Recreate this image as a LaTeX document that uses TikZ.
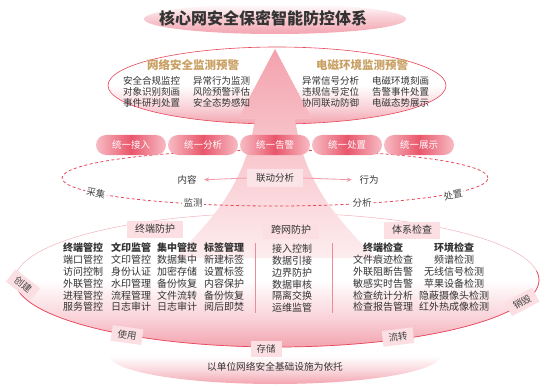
\documentclass[tikz,border=0pt]{standalone}
\usepackage{fontspec}
\setmainfont{Noto Sans CJK SC}
\usetikzlibrary{arrows.meta,calc}
\definecolor{redline}{HTML}{E8475B}
\definecolor{faintline}{HTML}{F3B3BC}
\definecolor{pkA}{HTML}{F3A4AF}
\definecolor{pkB}{HTML}{F9D3D9}
\definecolor{pinkbox}{HTML}{FBDFE3}
\definecolor{gold}{HTML}{C9A064}
\definecolor{txt}{HTML}{333333}
\definecolor{txtb}{HTML}{444444}
\definecolor{arrowtop}{HTML}{F4A2AD}
\definecolor{arrowbot}{HTML}{FDEDEF}
\definecolor{pillmid}{HTML}{E9566B}
\definecolor{pilledge}{HTML}{F7BCC4}
\definecolor{flowpk}{HTML}{F29AA6}
\definecolor{ldbox}{HTML}{FBE4E7}
\definecolor{sepline}{HTML}{F08A98}
\pgfdeclareverticalshading{ellglow}{100bp}{color(0bp)=(pkA); color(25bp)=(pkA); color(36bp)=(pkB); color(50bp)=(white); color(100bp)=(white)}
\pgfdeclareverticalshading{titleglow}{100bp}{color(0bp)=(pkA); color(25bp)=(pkA); color(55bp)=(pkB); color(75bp)=(white); color(100bp)=(white)}
\begin{document}
\begin{tikzpicture}[x=1pt,y=-1pt,
  itm/.style={font=\fontsize{9.5}{11}\selectfont, text=txt, align=left, inner sep=0pt, anchor=west},
  colm/.style={font=\fontsize{10}{11.8}\selectfont, text=txt, align=center, inner sep=0pt},
  hdr/.style={font=\fontsize{11.5}{13}\selectfont\bfseries, text=gold, inner sep=0pt},
  secbox/.style={fill=pinkbox, font=\fontsize{10}{12}\selectfont, text=txt, minimum width=56pt, minimum height=17pt, inner sep=0pt},
  pill/.style={left color=pilledge, right color=pilledge, middle color=pillmid, rounded corners=10pt, minimum width=70pt, minimum height=20pt, inner sep=0pt, text=white, font=\fontsize{9.5}{11}\selectfont},
  cyc/.style={fill=white, inner sep=1.5pt, font=\fontsize{9.5}{11}\selectfont, text=txtb},
  life/.style={fill=pinkbox, inner xsep=6pt, inner ysep=3.5pt, font=\fontsize{9.5}{11}\selectfont, text=txtb},
  flow/.style={-{Stealth[length=5pt,width=4.5pt]}, draw=flowpk, line width=0.8pt},
  sep/.style={draw=sepline, line width=0.6pt}
]
\useasboundingbox (0,0) rectangle (554,385);
\fill[white] (0,0) rectangle (554,385);

% title glow
\shade[shading=titleglow] (275,19) ellipse [x radius=131pt, y radius=15pt];

% top ellipse
\shade[shading=ellglow] (277,85.5) ellipse [x radius=169pt, y radius=38.5pt];
\draw[redline, line width=0.6pt] (277,85.5) ellipse [x radius=169pt, y radius=38.5pt];

% base ellipse
\shade[shading=ellglow] (275,356) ellipse [x radius=165pt, y radius=28pt];

% main bottom ellipse
\shade[shading=ellglow] (277,280) ellipse [x radius=262pt, y radius=67pt];
\draw[faintline, line width=0.5pt] (277,280) ellipse [x radius=262pt, y radius=67pt];
\draw[redline, line width=0.7pt] (277,280) ++(172:262pt and 67pt) arc[start angle=172, end angle=368, x radius=262pt, y radius=67pt];

% big arrow
\shade[top color=arrowtop, bottom color=arrowbot]
  (275,49) -- (312,119) -- (295,119) .. controls (305,190) and (345,225) .. (375,258)
  -- (175,258) .. controls (205,225) and (245,190) .. (255,119) -- (238,119) -- cycle;

% dashed cycle
\draw[redline, line width=0.8pt, dash pattern=on 3pt off 2.5pt] (275,178) ellipse [x radius=213pt, y radius=28pt];

% pills
\node[pill] (p1) at (131,145) {统一接入};
\node[pill] (p2) at (203,145) {统一分析};
\node[pill] (p3) at (275,145) {统一告警};
\node[pill] (p4) at (347,145) {统一处置};
\node[pill] (p5) at (419,145) {统一展示};

% title
\node[font=\fontsize{16}{18}\selectfont\bfseries, text=txt] (title) at (263,18) {核心网安全保密智能防控体系};

% top ellipse content
\node[hdr] (hl) at (193,65) {网络安全监测预警};
\node[hdr] (hr) at (362,65) {电磁环境监测预警};
\node[itm] (l1) at (123,92) {安全合规监控\\对象识别刻画\\事件研判处置};
\node[itm] (l2) at (193,92) {异常行为监测\\风险预警评估\\安全态势感知};
\node[itm] (r1) at (302,92) {异常信号分析\\违规信号定位\\协同联动防御};
\node[itm] (r2) at (372,92) {电磁环境刻画\\告警事件处置\\电磁态势展示};

% linkage analysis
\node[fill=ldbox, inner xsep=9pt, inner ysep=4.5pt, font=\fontsize{9.5}{11}\selectfont, text=txt] (ld) at (275,178) {联动分析};
\node[font=\fontsize{9.5}{11}\selectfont, text=txt, inner sep=1.5pt] (nr) at (187,180) {内容};
\node[font=\fontsize{9.5}{11}\selectfont, text=txt, inner sep=1.5pt] (xw) at (369,180) {行为};
\draw[flow, shorten >=6pt] (ld.west) -- (nr.east);
\draw[flow, shorten >=6pt] (ld.east) -- (xw.west);

% cycle labels
\node[cyc, rotate=-13] (cj) at (96,193) {采集};
\node[cyc] (jc) at (193,203) {监测};
\node[cyc] (fx) at (362,203) {分析};
\node[cyc, rotate=13] (cz) at (453,195) {处置};

% section headers
\node[secbox] (s1) at (155,229) {终端防护};
\node[secbox] (s2) at (291,230) {跨网防护};
\node[secbox] (s3) at (412,230) {体系检查};

% columns
\node[colm] (c1) at (83,277.5) {\textbf{终端管控}\\端口管控\\访问控制\\外联管控\\进程管控\\服务管控};
\node[colm] (c2) at (131,277.5) {\textbf{文印监管}\\文印管控\\身份认证\\水印管理\\流程管理\\日志审计};
\node[colm] (c3) at (177,277.5) {\textbf{集中管控}\\数据集中\\加密存储\\备份恢复\\文件流转\\日志审计};
\node[colm] (c4) at (224,277.5) {\textbf{标签管理}\\新建标签\\设置标签\\内容保护\\备份恢复\\阅后即焚};
\node[colm] (c5) at (292,278.5) {接入控制\\数据引接\\边界防护\\数据审核\\隔离交换\\运维监管};
\node[colm] (c6) at (383,277.5) {\textbf{终端检查}\\文件痕迹检查\\外联阻断告警\\敏感实时告警\\检查统计分析\\检查报告管理};
\node[colm] (c7) at (454,277.5) {\textbf{环境检查}\\频谱检测\\无线信号检测\\苹果设备检测\\隐蔽摄像头检测\\红外热成像检测};

% separators
\coordinate (v1a) at (255,243); \coordinate (v1b) at (255,313);
\coordinate (v2a) at (332,243); \coordinate (v2b) at (332,313);
\draw[sep] (v1a) -- (v1b);
\draw[sep] (v2a) -- (v2b);

% lifecycle labels
\node[life, rotate=-38] (cjn) at (23,285) {创建};
\node[life, rotate=-8] (sy) at (127,335) {使用};
\node[life] (cc) at (266,349) {存储};
\node[life, rotate=7] (lz) at (398,337) {流转};
\node[life, rotate=28] (xh) at (522,302) {销毁};

% base text
\node[font=\fontsize{9.7}{11}\selectfont, text=txt] (base) at (275,367) {以单位网络安全基础设施为依托};
\end{tikzpicture}
\end{document}
